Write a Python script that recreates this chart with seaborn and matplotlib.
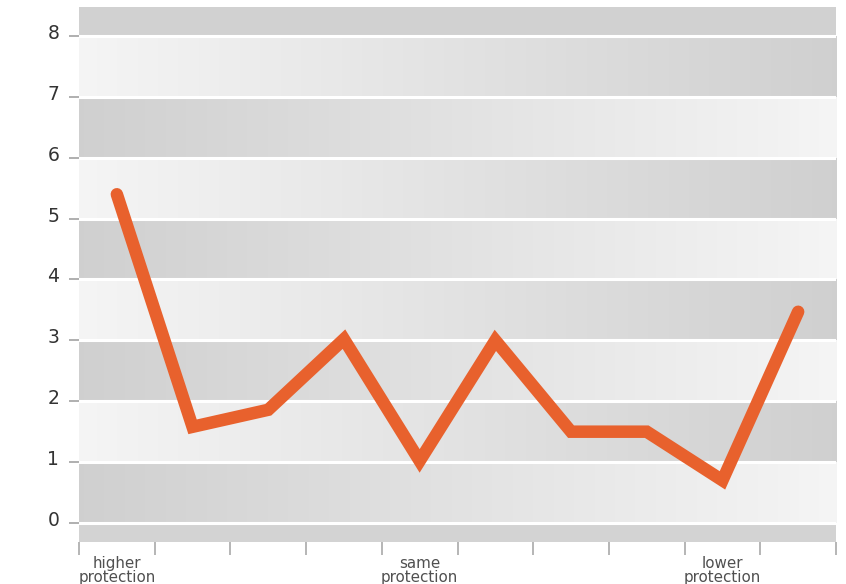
import numpy as np
import pandas as pd
import seaborn as sns
import matplotlib
matplotlib.use("Agg")
import matplotlib.pyplot as plt
from matplotlib.transforms import ScaledTranslation

# ---- data ----
steps = list(range(10))
values = [5.4, 1.58, 1.86, 3.02, 1.02, 3.0, 1.5, 1.5, 0.7, 3.47]
x_labels = ["higher\nprotection", "", "", "", "same\nprotection",
            "", "", "", "lower\nprotection", ""]
y_ticks = [0, 1, 2, 3, 4, 5, 6, 7, 8]

df = pd.DataFrame({"step": steps, "value": values})

sns.set_style("white")
plt.rcParams["font.family"] = ["DejaVu Sans"]

W, H, DPI = 846, 584, 100
fig = plt.figure(figsize=(W / DPI, H / DPI), dpi=DPI, facecolor="white")
ax = fig.add_axes([79 / W, (H - 542) / H, (836 - 79) / W, (542 - 7) / H])
ax.set_facecolor("white")

y_bottom, y_top = -0.312, 8.476
x_left, x_right = -0.5, 9.5

# ---- background bands with horizontal gradients ----
light, dark = 0.96, 0.815
grad = np.linspace(0, 1, 256)
for k in range(8):
    if k % 2 == 0:
        g = dark + (light - dark) * grad      # gray -> light
    else:
        g = light + (dark - light) * grad     # light -> gray
    img = np.dstack([g, g, g]).repeat(2, axis=0)
    ax.imshow(img, extent=(x_left, x_right, k, k + 1), aspect="auto",
              interpolation="bilinear", zorder=0)
# top and bottom uniform strips
ax.axhspan(8, y_top, color="#d1d1d1", lw=0, zorder=0)
ax.axhspan(y_bottom, 0, color="#d3d3d3", lw=0, zorder=0)
for k in range(9):
    ax.axhline(k, color="white", lw=2.2, zorder=1)

# ---- line ----
sns.lineplot(data=df, x="step", y="value", ax=ax, color="#e8612d",
             lw=9.0, solid_capstyle="round", solid_joinstyle="miter", zorder=3)

ax.set_xlim(x_left, x_right)
ax.set_ylim(y_bottom, y_top)
ax.set_xlabel("")
ax.set_ylabel("")
for s in ax.spines.values():
    s.set_visible(False)

# y axis
ax.set_yticks(y_ticks)
ax.set_yticklabels([str(v) for v in y_ticks])
ax.tick_params(axis="y", which="major", left=True, length=7.2, width=1.1,
               color="#9a9a9a", pad=7, labelsize=13.5, labelcolor="#333333")
for lab in ax.get_yticklabels():
    lab.set_transform(lab.get_transform() + ScaledTranslation(0, 0.045, fig.dpi_scale_trans))

# x axis: tick marks at boundaries, labels at category centers
ax.set_xticks(np.arange(-0.5, 10, 1.0))
ax.set_xticklabels([])
ax.tick_params(axis="x", which="major", bottom=True, length=9, width=1.3,
               color="#b0b0b0")
ax.set_xticks(steps, minor=True)
ax.set_xticklabels(x_labels, minor=True)
ax.tick_params(axis="x", which="minor", bottom=True, length=0, pad=10,
               labelsize=10.9, labelcolor="#505050")
for lab in ax.get_xticklabels(minor=True):
    lab.set_linespacing(0.95)

fig.savefig("out.png", dpi=DPI, facecolor="white")
